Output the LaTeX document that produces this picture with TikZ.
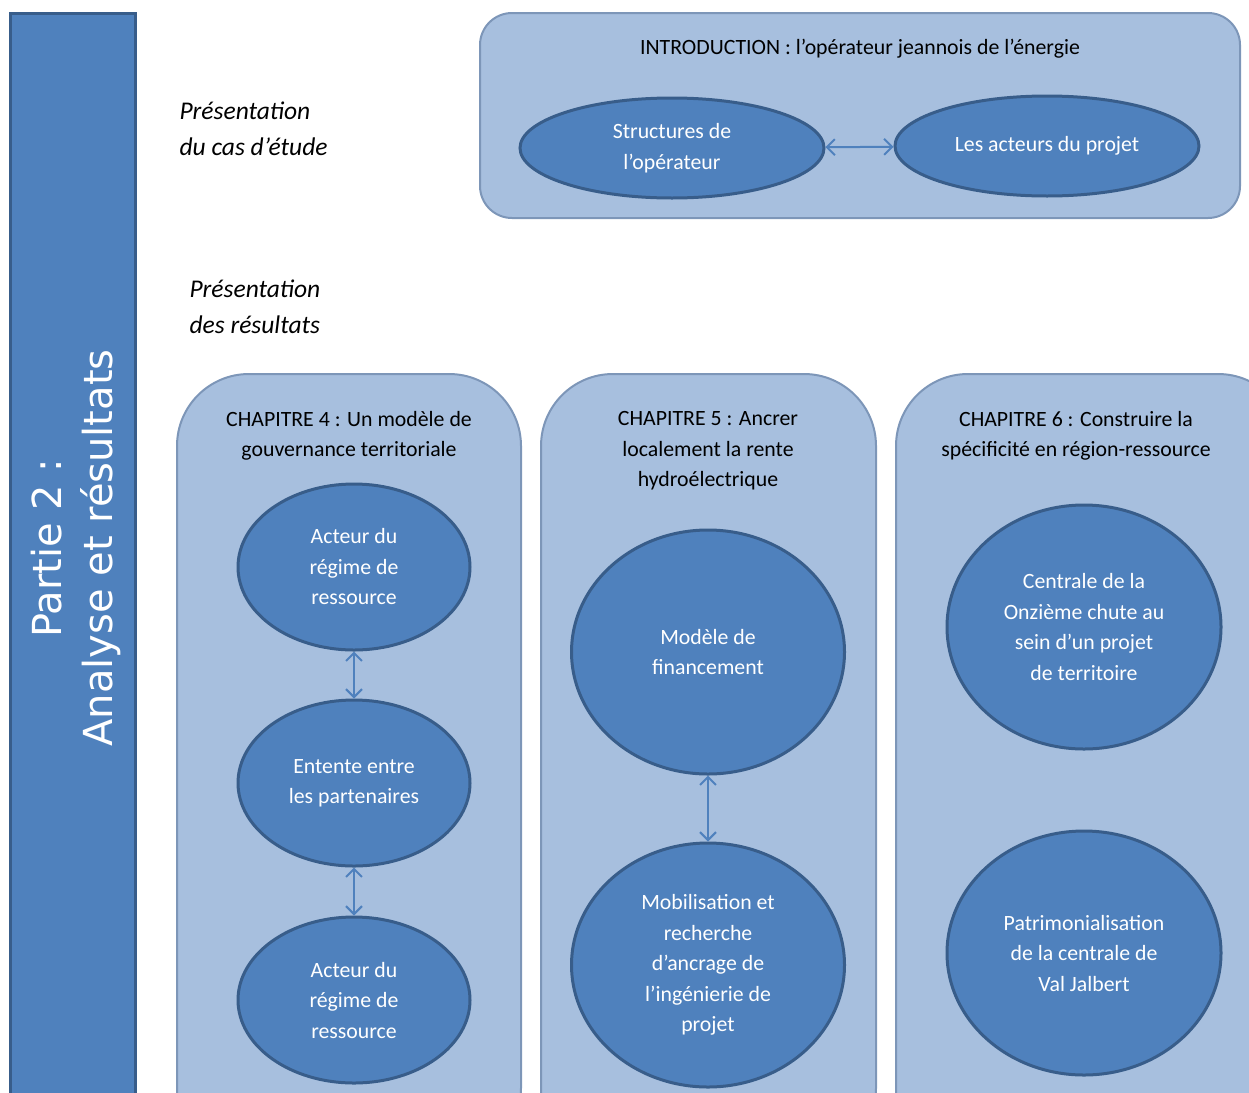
\documentclass[tikz,border=0pt]{standalone}
\usepackage{fontspec}
\setmainfont{Carlito}
\newfontfamily\barfont{DejaVu Sans}
\usetikzlibrary{shapes.geometric, arrows.meta}
\definecolor{OffBlue}{RGB}{79,129,189}
\definecolor{OffDark}{RGB}{56,93,138}
\definecolor{OffLight}{RGB}{167,191,222}
\definecolor{OffEdge}{RGB}{125,150,184}

\begin{document}
\begin{tikzpicture}[x=1pt, y=-1pt,
          oval/.style={ellipse, draw=OffDark, fill=OffBlue, line width=3pt,
                       inner sep=0pt, text=white, align=center,
                       font=\fontsize{21.8}{30.5}\selectfont},
          panel/.style={fill=OffLight, draw=OffEdge, line width=2pt},
          ttl/.style={align=center, font=\fontsize{21.8}{30.5}\selectfont},
          side/.style={align=left, anchor=north west,
                       font=\fontsize{25.5}{36}\selectfont\itshape},
          dbl/.style={{Straight Barb[length=8pt,width=16pt]}-{Straight Barb[length=8pt,width=16pt]},
                      OffBlue, line width=2pt}
        ]
        \useasboundingbox (0,0) rectangle (1249,1092);
        \clip (0,0) rectangle (1249,1092);

        % side bar
        \draw[fill=OffBlue, draw=OffDark, line width=3pt] (10,13) rectangle (135,1110);
        \node[rotate=90, text=white, align=center,
              font=\barfont\fontsize{40}{51}\selectfont] (part) at (76,548)
              {Partie 2 :\\Analyse et résultats};

        % labels
        \node[side] (lcas) at (176,98) {Présentation\\du cas d’étude};
        \node[side] (lres) at (186,276) {Présentation\\des résultats};

        % introduction
        \draw[panel, rounded corners=32pt] (480,13) rectangle (1240,218);
        \node[ttl] (intro) at (860,49) {INTRODUCTION : l’opérateur jeannois de l’énergie};
        \node[oval, minimum width=304pt, minimum height=100pt] (struct) at (672,148)
              {Structures de\\l’opérateur};
        \node[oval, minimum width=304pt, minimum height=100pt] (acteurs) at (1047,146)
              {Les acteurs du projet};
        \draw[dbl] (struct)--(acteurs);

        % chapters
        \draw[panel, rounded corners=72pt] (177,374) rectangle (521,1160);
        \draw[panel, rounded corners=72pt] (541,374) rectangle (876,1160);
        \draw[panel, rounded corners=72pt] (896,374) rectangle (1290,1160);
        \node[ttl] (ch4) at (349,436) {CHAPITRE 4 : Un modèle de\\gouvernance territoriale};
        \node[ttl] (ch5) at (708,451) {CHAPITRE 5 : Ancrer\\localement la rente\\hydroélectrique};
        \node[ttl] (ch6) at (1076,436) {CHAPITRE 6 : Construire la\\spécificité en région-ressource};

        % chapitre 4
        \foreach \y/\n/\txt in {567/a/{Acteur du\\régime de\\ressource},
                                783/b/{Entente entre\\les partenaires},
                                1000/c/{Acteur du\\régime de\\ressource}} {
          \node[oval, minimum width=232pt, minimum height=166pt] (q\n) at (354,\y) {\txt};
        }
        \draw[dbl] (qa)--(qb);
        \draw[dbl] (qb)--(qc);

        % chapitre 5
        \node[oval, minimum width=273pt, minimum height=244pt] (fin) at (708,652)
              {Modèle de\\financement};
        \node[oval, minimum width=273pt, minimum height=244pt] (mob) at (708,965)
              {Mobilisation et\\recherche\\d’ancrage de\\l’ingénierie de\\projet};
        \draw[dbl] (fin)--(mob);

        % chapitre 6
        \node[oval, minimum width=274pt, minimum height=244pt] (onz) at (1084,627)
              {Centrale de la\\Onzième chute au\\sein d’un projet\\de territoire};
        \node[oval, minimum width=274pt, minimum height=244pt] (pat) at (1084,953)
              {Patrimonialisation\\de la centrale de\\Val Jalbert};
      \end{tikzpicture}
\end{document}
